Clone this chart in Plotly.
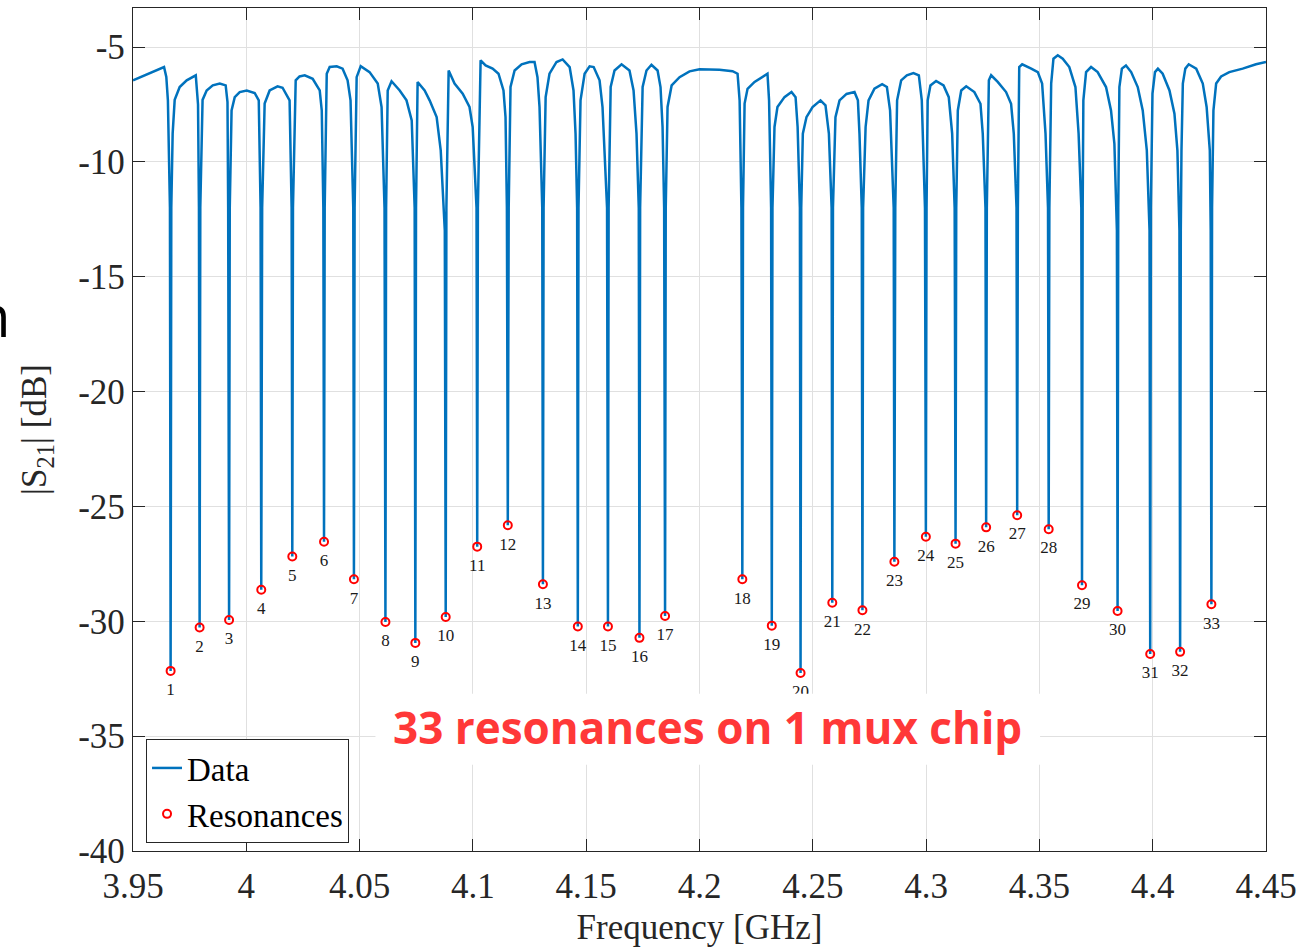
import numpy as np
import plotly.graph_objects as go

# Resonance minima of the multiplexer chip
res_ghz = [3.9666, 3.9794, 3.9924, 4.0066, 4.0203, 4.0343, 4.0475, 4.0614, 4.0746, 4.0880,
           4.1019, 4.1154, 4.1309, 4.1463, 4.1596, 4.1735, 4.1848, 4.2189, 4.2319, 4.2446,
           4.2586, 4.2719, 4.2860, 4.2999, 4.3130, 4.3265, 4.3402, 4.3541, 4.3688, 4.3845,
           4.3989, 4.4121, 4.4259]
res_db = [-32.16, -30.27, -29.94, -28.63, -27.18, -26.54, -28.17, -30.03, -30.94, -29.81,
          -26.75, -25.82, -28.39, -30.23, -30.23, -30.72, -29.77, -28.17, -30.19, -32.25,
          -29.19, -29.52, -27.41, -26.32, -26.62, -25.91, -25.38, -25.99, -28.43, -29.55,
          -31.42, -31.33, -29.26]

# Measured transmission between (and on the walls of) the resonances
trace_ghz = [
    3.9500, 3.9637, 3.9647, 3.9654, 3.9663, 3.9669, 3.9675, 3.9684, 3.9706, 3.9737,
    3.9777, 3.9787, 3.9791, 3.9797, 3.9807, 3.9825, 3.9852, 3.9883, 3.9909, 3.9917,
    3.9920, 3.9927, 3.9935, 3.9949, 3.9971, 4.0002, 4.0037, 4.0055, 4.0063, 4.0070,
    4.0081, 4.0103, 4.0138, 4.0160, 4.0191, 4.0200, 4.0206, 4.0218, 4.0235, 4.0258,
    4.0293, 4.0324, 4.0333, 4.0340, 4.0346, 4.0355, 4.0368, 4.0399, 4.0425, 4.0447,
    4.0460, 4.0472, 4.0478, 4.0487, 4.0505, 4.0544, 4.0580, 4.0597, 4.0610, 4.0617,
    4.0624, 4.0641, 4.0677, 4.0707, 4.0730, 4.0743, 4.0749, 4.0756, 4.0787, 4.0809,
    4.0840, 4.0858, 4.0876, 4.0883, 4.0893, 4.0919, 4.0955, 4.0985, 4.0999, 4.1016,
    4.1022, 4.1034, 4.1056, 4.1087, 4.1113, 4.1135, 4.1144, 4.1150, 4.1158, 4.1166,
    4.1184, 4.1215, 4.1250, 4.1272, 4.1285, 4.1294, 4.1306, 4.1312, 4.1321, 4.1338,
    4.1369, 4.1396, 4.1427, 4.1444, 4.1453, 4.1460, 4.1466, 4.1475, 4.1493, 4.1515,
    4.1533, 4.1559, 4.1572, 4.1592, 4.1599, 4.1608, 4.1625, 4.1656, 4.1691, 4.1709,
    4.1722, 4.1732, 4.1738, 4.1749, 4.1766, 4.1788, 4.1815, 4.1828, 4.1837, 4.1844,
    4.1851, 4.1859, 4.1877, 4.1912, 4.1956, 4.2000, 4.2044, 4.2088, 4.2146, 4.2168,
    4.2177, 4.2185, 4.2192, 4.2199, 4.2212, 4.2243, 4.2278, 4.2300, 4.2307, 4.2316,
    4.2322, 4.2331, 4.2344, 4.2375, 4.2406, 4.2424, 4.2433, 4.2443, 4.2449, 4.2456,
    4.2472, 4.2499, 4.2534, 4.2556, 4.2571, 4.2583, 4.2589, 4.2600, 4.2618, 4.2649,
    4.2684, 4.2699, 4.2706, 4.2716, 4.2722, 4.2733, 4.2746, 4.2772, 4.2806, 4.2827,
    4.2841, 4.2857, 4.2864, 4.2872, 4.2890, 4.2915, 4.2944, 4.2968, 4.2981, 4.2995,
    4.3002, 4.3007, 4.3019, 4.3044, 4.3077, 4.3100, 4.3115, 4.3126, 4.3133, 4.3140,
    4.3155, 4.3177, 4.3213, 4.3240, 4.3250, 4.3262, 4.3268, 4.3277, 4.3287, 4.3316,
    4.3353, 4.3375, 4.3387, 4.3399, 4.3405, 4.3411, 4.3424, 4.3464, 4.3493, 4.3512,
    4.3527, 4.3538, 4.3544, 4.3552, 4.3562, 4.3581, 4.3603, 4.3632, 4.3659, 4.3673,
    4.3685, 4.3691, 4.3694, 4.3706, 4.3728, 4.3757, 4.3794, 4.3816, 4.3831, 4.3842,
    4.3848, 4.3853, 4.3864, 4.3882, 4.3905, 4.3934, 4.3956, 4.3974, 4.3986, 4.3992,
    4.3999, 4.4010, 4.4023, 4.4044, 4.4074, 4.4096, 4.4109, 4.4118, 4.4124, 4.4127,
    4.4133, 4.4144, 4.4159, 4.4192, 4.4221, 4.4238, 4.4252, 4.4256, 4.4262, 4.4268,
    4.4280, 4.4302, 4.4338, 4.4397, 4.4456, 4.4500,
]
trace_db = [
    -6.45, -5.87, -6.30, -7.32, -12.0, -12.0, -8.77, -7.30, -6.74, -6.45,
    -6.23, -7.50, -12.0, -12.0, -7.30, -6.89, -6.67, -6.59, -6.67, -7.40,
    -12.0, -12.0, -7.76, -7.18, -6.96, -6.89, -7.00, -7.32, -12.0, -12.0,
    -7.46, -6.89, -6.71, -6.77, -7.32, -12.0, -12.0, -6.45, -6.28, -6.23,
    -6.38, -6.89, -7.76, -12.0, -12.0, -6.16, -5.87, -5.84, -5.94, -6.45,
    -7.32, -12.0, -12.0, -6.31, -5.83, -6.09, -6.59, -7.61, -12.0, -12.0,
    -6.89, -6.49, -6.89, -7.32, -8.19, -12.0, -12.0, -6.52, -6.89, -7.32,
    -8.05, -9.50, -13.0, -12.0, -6.02, -6.59, -7.03, -7.61, -8.48, -12.0,
    -12.0, -5.58, -5.80, -5.94, -6.16, -6.89, -8.05, -12.0, -12.0, -6.74,
    -6.02, -5.75, -5.65, -5.65, -6.31, -7.61, -12.0, -12.0, -7.18, -6.16,
    -5.65, -5.54, -5.87, -6.89, -8.77, -12.0, -12.0, -7.32, -6.16, -5.84,
    -5.87, -6.45, -7.61, -12.0, -12.0, -6.74, -6.02, -5.75, -6.02, -6.89,
    -8.77, -12.0, -12.0, -6.74, -6.02, -5.77, -6.02, -6.74, -8.48, -12.0,
    -12.0, -7.61, -6.67, -6.31, -6.06, -5.97, -5.97, -5.99, -6.05, -6.16,
    -7.32, -12.0, -12.0, -7.46, -6.82, -6.52, -6.28, -6.16, -7.32, -12.0,
    -12.0, -8.48, -7.61, -7.18, -6.96, -7.18, -8.48, -12.0, -12.0, -8.77,
    -8.05, -7.61, -7.32, -7.54, -8.77, -12.0, -12.0, -8.05, -7.32, -7.04,
    -6.96, -7.32, -8.77, -12.0, -12.0, -8.48, -7.32, -6.81, -6.62, -6.74,
    -7.76, -12.0, -12.0, -7.32, -6.45, -6.23, -6.13, -6.23, -7.32, -12.0,
    -12.0, -7.32, -6.67, -6.48, -6.67, -7.18, -8.77, -12.0, -12.0, -7.76,
    -6.89, -6.71, -6.96, -7.47, -8.77, -12.0, -12.0, -6.45, -6.23, -6.52,
    -6.96, -7.47, -8.77, -12.0, -12.0, -5.87, -5.75, -5.94, -6.09, -6.59,
    -8.77, -12.0, -12.0, -6.59, -5.51, -5.36, -5.51, -5.87, -6.74, -8.77,
    -12.0, -12.0, -7.32, -6.09, -5.87, -6.09, -6.74, -7.76, -9.21, -13.0,
    -12.0, -6.74, -5.94, -5.80, -6.09, -6.74, -7.76, -9.50, -13.0, -12.0,
    -7.03, -6.09, -5.94, -6.16, -6.89, -7.90, -9.50, -13.0, -13.0, -9.50,
    -6.59, -5.94, -5.75, -5.94, -6.59, -7.61, -9.50, -13.0, -12.0, -7.76,
    -6.59, -6.28, -6.09, -5.94, -5.75, -5.65,
]

x_tick_vals = [3.95, 4.0, 4.05, 4.1, 4.15, 4.2, 4.25, 4.3, 4.35, 4.4, 4.45]
x_tick_text = ["3.95", "4", "4.05", "4.1", "4.15", "4.2", "4.25", "4.3", "4.35", "4.4", "4.45"]
y_tick_vals = [-40, -35, -30, -25, -20, -15, -10, -5]
y_tick_text = ["-40", "-35", "-30", "-25", "-20", "-15", "-10", "-5"]

# merge the wall/baseline samples with the resonance minima
all_f = np.array(trace_ghz + res_ghz)
all_db = np.array(trace_db + res_db)
order = np.argsort(all_f, kind="stable")
data_f = all_f[order]
data_db = all_db[order]

SERIF = "Liberation Serif, Times New Roman, serif"
INK = "#262626"
BLUE = "#0072BD"

fig = go.Figure()
fig.add_trace(go.Scatter(
    x=data_f, y=data_db, mode="lines", name="Data",
    line=dict(color=BLUE, width=2.5),
))
fig.add_trace(go.Scatter(
    x=res_ghz, y=res_db, mode="markers", name="Resonances",
    marker=dict(symbol="circle-open", size=8, color="#FF0000", line=dict(width=2, color="#FF0000")),
))
# resonance index labels just below each minimum
label_drop = 0.87
fig.add_trace(go.Scatter(
    x=res_ghz, y=[v - label_drop for v in res_db], mode="text",
    text=[str(i + 1) for i in range(len(res_ghz))],
    textposition="middle center",
    textfont=dict(family=SERIF, size=17, color="#1a1a1a"),
    showlegend=False, hoverinfo="skip",
))

axis_common = dict(
    showline=True, linecolor=INK, linewidth=1.3, mirror="ticks",
    ticks="inside", ticklen=12, tickwidth=1.3, tickcolor=INK,
    showgrid=True, gridcolor="#e0e0e0", gridwidth=1, zeroline=False,
    tickfont=dict(family=SERIF, size=35, color=INK),
)

fig.update_xaxes(
    range=[3.95, 4.45], tickvals=x_tick_vals, ticktext=x_tick_text,
    ticklabelstandoff=4,
    title=dict(text="Frequency [GHz]", font=dict(family=SERIF, size=35, color=INK), standoff=9),
    **axis_common,
)
fig.update_yaxes(
    range=[-40, -3.3], tickvals=y_tick_vals, ticktext=y_tick_text,
    title=dict(text="|S<sub>21</sub>| [dB]", font=dict(family=SERIF, size=35, color=INK), standoff=20),
    **axis_common,
)

# caption panel over the lower part of the axes
fig.add_shape(type="rect", xref="x", yref="y", x0=4.0570, x1=4.3503, y0=-36.24, y1=-33.15,
              fillcolor="white", line=dict(width=0), layer="above")
fig.add_annotation(
    x=4.2037, y=-34.62, xref="x", yref="y", showarrow=False,
    text="<b>33 resonances on 1 mux chip</b>",
    font=dict(family="Open Sans, Noto Sans, sans-serif", size=44, color="#FF3838"),
)
fig.add_annotation(
    x=-0.106, y=0.636, xref="paper", yref="paper", xanchor="right", yanchor="middle",
    showarrow=False, text="n",
    font=dict(family="Open Sans, Noto Sans, sans-serif", size=58, color="#000000"),
)

fig.update_layout(
    width=1304, height=949,
    margin=dict(l=133, r=38, t=8, b=98),
    paper_bgcolor="white", plot_bgcolor="white",
    showlegend=True,
    legend=dict(
        x=0.0115, y=0.0095, xanchor="left", yanchor="bottom",
        bgcolor="white", bordercolor=INK, borderwidth=1,
        font=dict(family=SERIF, size=33, color="#000000"),
        tracegroupgap=0, itemwidth=30,
    ),
)

fig.write_html("out.html")
